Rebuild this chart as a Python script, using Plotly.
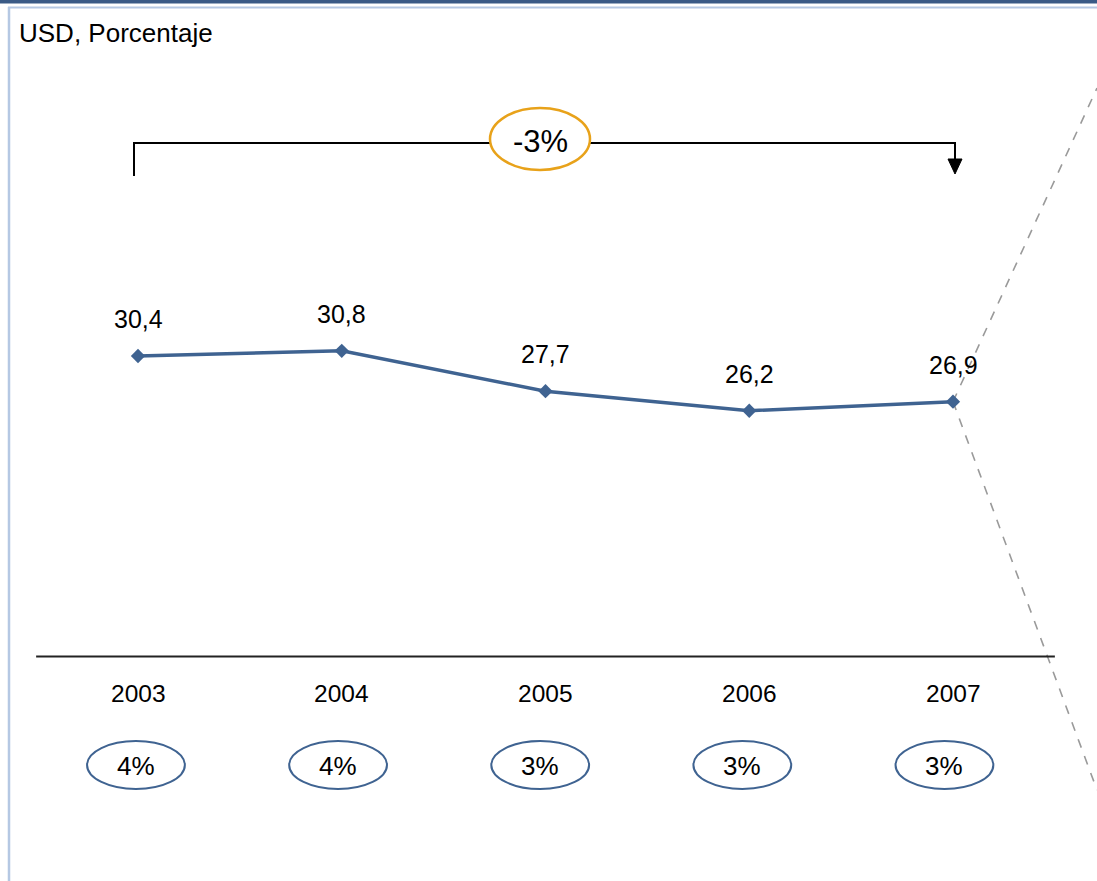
import plotly.graph_objects as go

# ---------------- data ----------------
years = [2003, 2004, 2005, 2006, 2007]
values = [30.4, 30.8, 27.7, 26.2, 26.9]
value_labels = ["30,4", "30,8", "27,7", "26,2", "26,9"]
share_labels = ["4%", "4%", "3%", "3%", "3%"]
cagr_label = "-3%"
unit_label = "USD, Porcentaje"

# ---------------- layout calibration ----------------
W, H = 1097, 881
X0_PX, XSTEP_PX = 138.0, 203.75          # pixel of first year, pixels per year
Y_REF_PX, Y_REF_VAL, Y_PX_PER_UNIT = 356.0, 30.4, 13.04

def xd(px):
    return years[0] + (px - X0_PX) / XSTEP_PX

def yd(py):
    return Y_REF_VAL - (py - Y_REF_PX) / Y_PX_PER_UNIT

FONT = "Arial, Liberation Sans, sans-serif"
LINE_COLOR = "#3F6391"
ELLIPSE_BLUE = "#3F6391"
ORANGE = "#E8A21A"

fig = go.Figure()

fig.add_trace(go.Scatter(
    x=years, y=values, mode="lines+markers",
    line=dict(color=LINE_COLOR, width=3.5),
    marker=dict(symbol="diamond", size=11, color=LINE_COLOR),
    hoverinfo="skip", showlegend=False,
))

shapes = []
annotations = []

# frame
shapes.append(dict(type="rect", xref="paper", yref="paper", x0=0, x1=1,
                   y0=1 - 3.5 / H, y1=1, fillcolor="#3A5A86", line=dict(width=0)))
shapes.append(dict(type="line", xref="paper", yref="paper", x0=8 / W, x1=1,
                   y0=1 - 7.5 / H, y1=1 - 7.5 / H, line=dict(color="#B5C8E3", width=2)))
shapes.append(dict(type="line", xref="paper", yref="paper", x0=9 / W, x1=9 / W,
                   y0=0, y1=1 - 7 / H, line=dict(color="#B5C8E3", width=2.5)))

# unit label
annotations.append(dict(x=17 / W, y=1 - 33 / H, xref="paper", yref="paper",
                        text=unit_label, showarrow=False, xanchor="left", yanchor="middle",
                        font=dict(family=FONT, size=26, color="black")))

# category axis line
AXIS_PX = 656.5
shapes.append(dict(type="line", xref="x", yref="y",
                   x0=years[0] - 0.5, x1=years[-1] + 0.5, y0=yd(AXIS_PX), y1=yd(AXIS_PX),
                   line=dict(color="#222222", width=2)))

# dashed zoom lines from last point
shapes.append(dict(type="line", xref="x", yref="y", x0=years[-1], y0=values[-1],
                   x1=xd(W), y1=yd(88), line=dict(color="#9A9A9A", width=1.6, dash="dash"),
                   layer="below"))
shapes.append(dict(type="line", xref="x", yref="y", x0=years[-1], y0=values[-1],
                   x1=xd(W), y1=yd(790), line=dict(color="#9A9A9A", width=1.6, dash="dash"),
                   layer="below"))

# data labels
for yr, v, lab in zip(years, values, value_labels):
    annotations.append(dict(x=yr, y=v, xref="x", yref="y", text=lab, showarrow=False,
                            yshift=37, xanchor="center", yanchor="middle",
                            font=dict(family=FONT, size=25, color="black")))

# year labels and share ellipses
for i, (yr, s) in enumerate(zip(years, share_labels)):
    annotations.append(dict(x=yr, y=yd(693), xref="x", yref="y", text=str(yr),
                            showarrow=False, xanchor="center", yanchor="middle",
                            font=dict(family=FONT, size=24.5, color="black")))
    cx = yr - 0.01 - 0.008 * i
    shapes.append(dict(type="circle", xref="x", yref="y",
                       x0=cx - 0.24, x1=cx + 0.24, y0=yd(789), y1=yd(741),
                       line=dict(color=ELLIPSE_BLUE, width=2), fillcolor="white"))
    annotations.append(dict(x=cx, y=yd(766), xref="x", yref="y", text=s,
                            showarrow=False, xanchor="center", yanchor="middle",
                            font=dict(family=FONT, size=26, color="black")))

# CAGR bracket
BR_Y = 143
xl = years[0] - 4 / XSTEP_PX
xr = years[-1] + 2 / XSTEP_PX
shapes.append(dict(type="line", xref="x", yref="y", x0=xl, x1=xl, y0=yd(BR_Y - 1), y1=yd(176),
                   line=dict(color="black", width=2)))
shapes.append(dict(type="line", xref="x", yref="y", x0=xl, x1=xr, y0=yd(BR_Y), y1=yd(BR_Y),
                   line=dict(color="black", width=2)))
shapes.append(dict(type="line", xref="x", yref="y", x0=xr, x1=xr, y0=yd(BR_Y - 1), y1=yd(161),
                   line=dict(color="black", width=2)))
hw = 7 / XSTEP_PX
shapes.append(dict(type="path", xref="x", yref="y",
                   path=f"M {xr - hw},{yd(159)} L {xr + hw},{yd(159)} L {xr},{yd(174)} Z",
                   fillcolor="black", line=dict(color="black", width=1)))
# orange ellipse
shapes.append(dict(type="circle", xref="x", yref="y", x0=xd(490), x1=xd(590),
                   y0=yd(170), y1=yd(108), fillcolor="white",
                   line=dict(color=ORANGE, width=2.5)))
annotations.append(dict(x=xd(540), y=yd(141), xref="x", yref="y", text=cagr_label,
                        showarrow=False, xanchor="center", yanchor="middle",
                        font=dict(family=FONT, size=31, color="black")))

fig.update_layout(
    width=W, height=H,
    margin=dict(l=0, r=0, t=0, b=0),
    paper_bgcolor="white", plot_bgcolor="white",
    xaxis=dict(range=[xd(0), xd(W)], visible=False, fixedrange=True),
    yaxis=dict(range=[yd(H), yd(0)], visible=False, fixedrange=True),
    shapes=shapes, annotations=annotations,
    showlegend=False,
)

fig.write_html(
    "out.html",
    config={"displayModeBar": False},
    post_script="document.body.style.margin='0';document.body.style.overflow='hidden';",
)
